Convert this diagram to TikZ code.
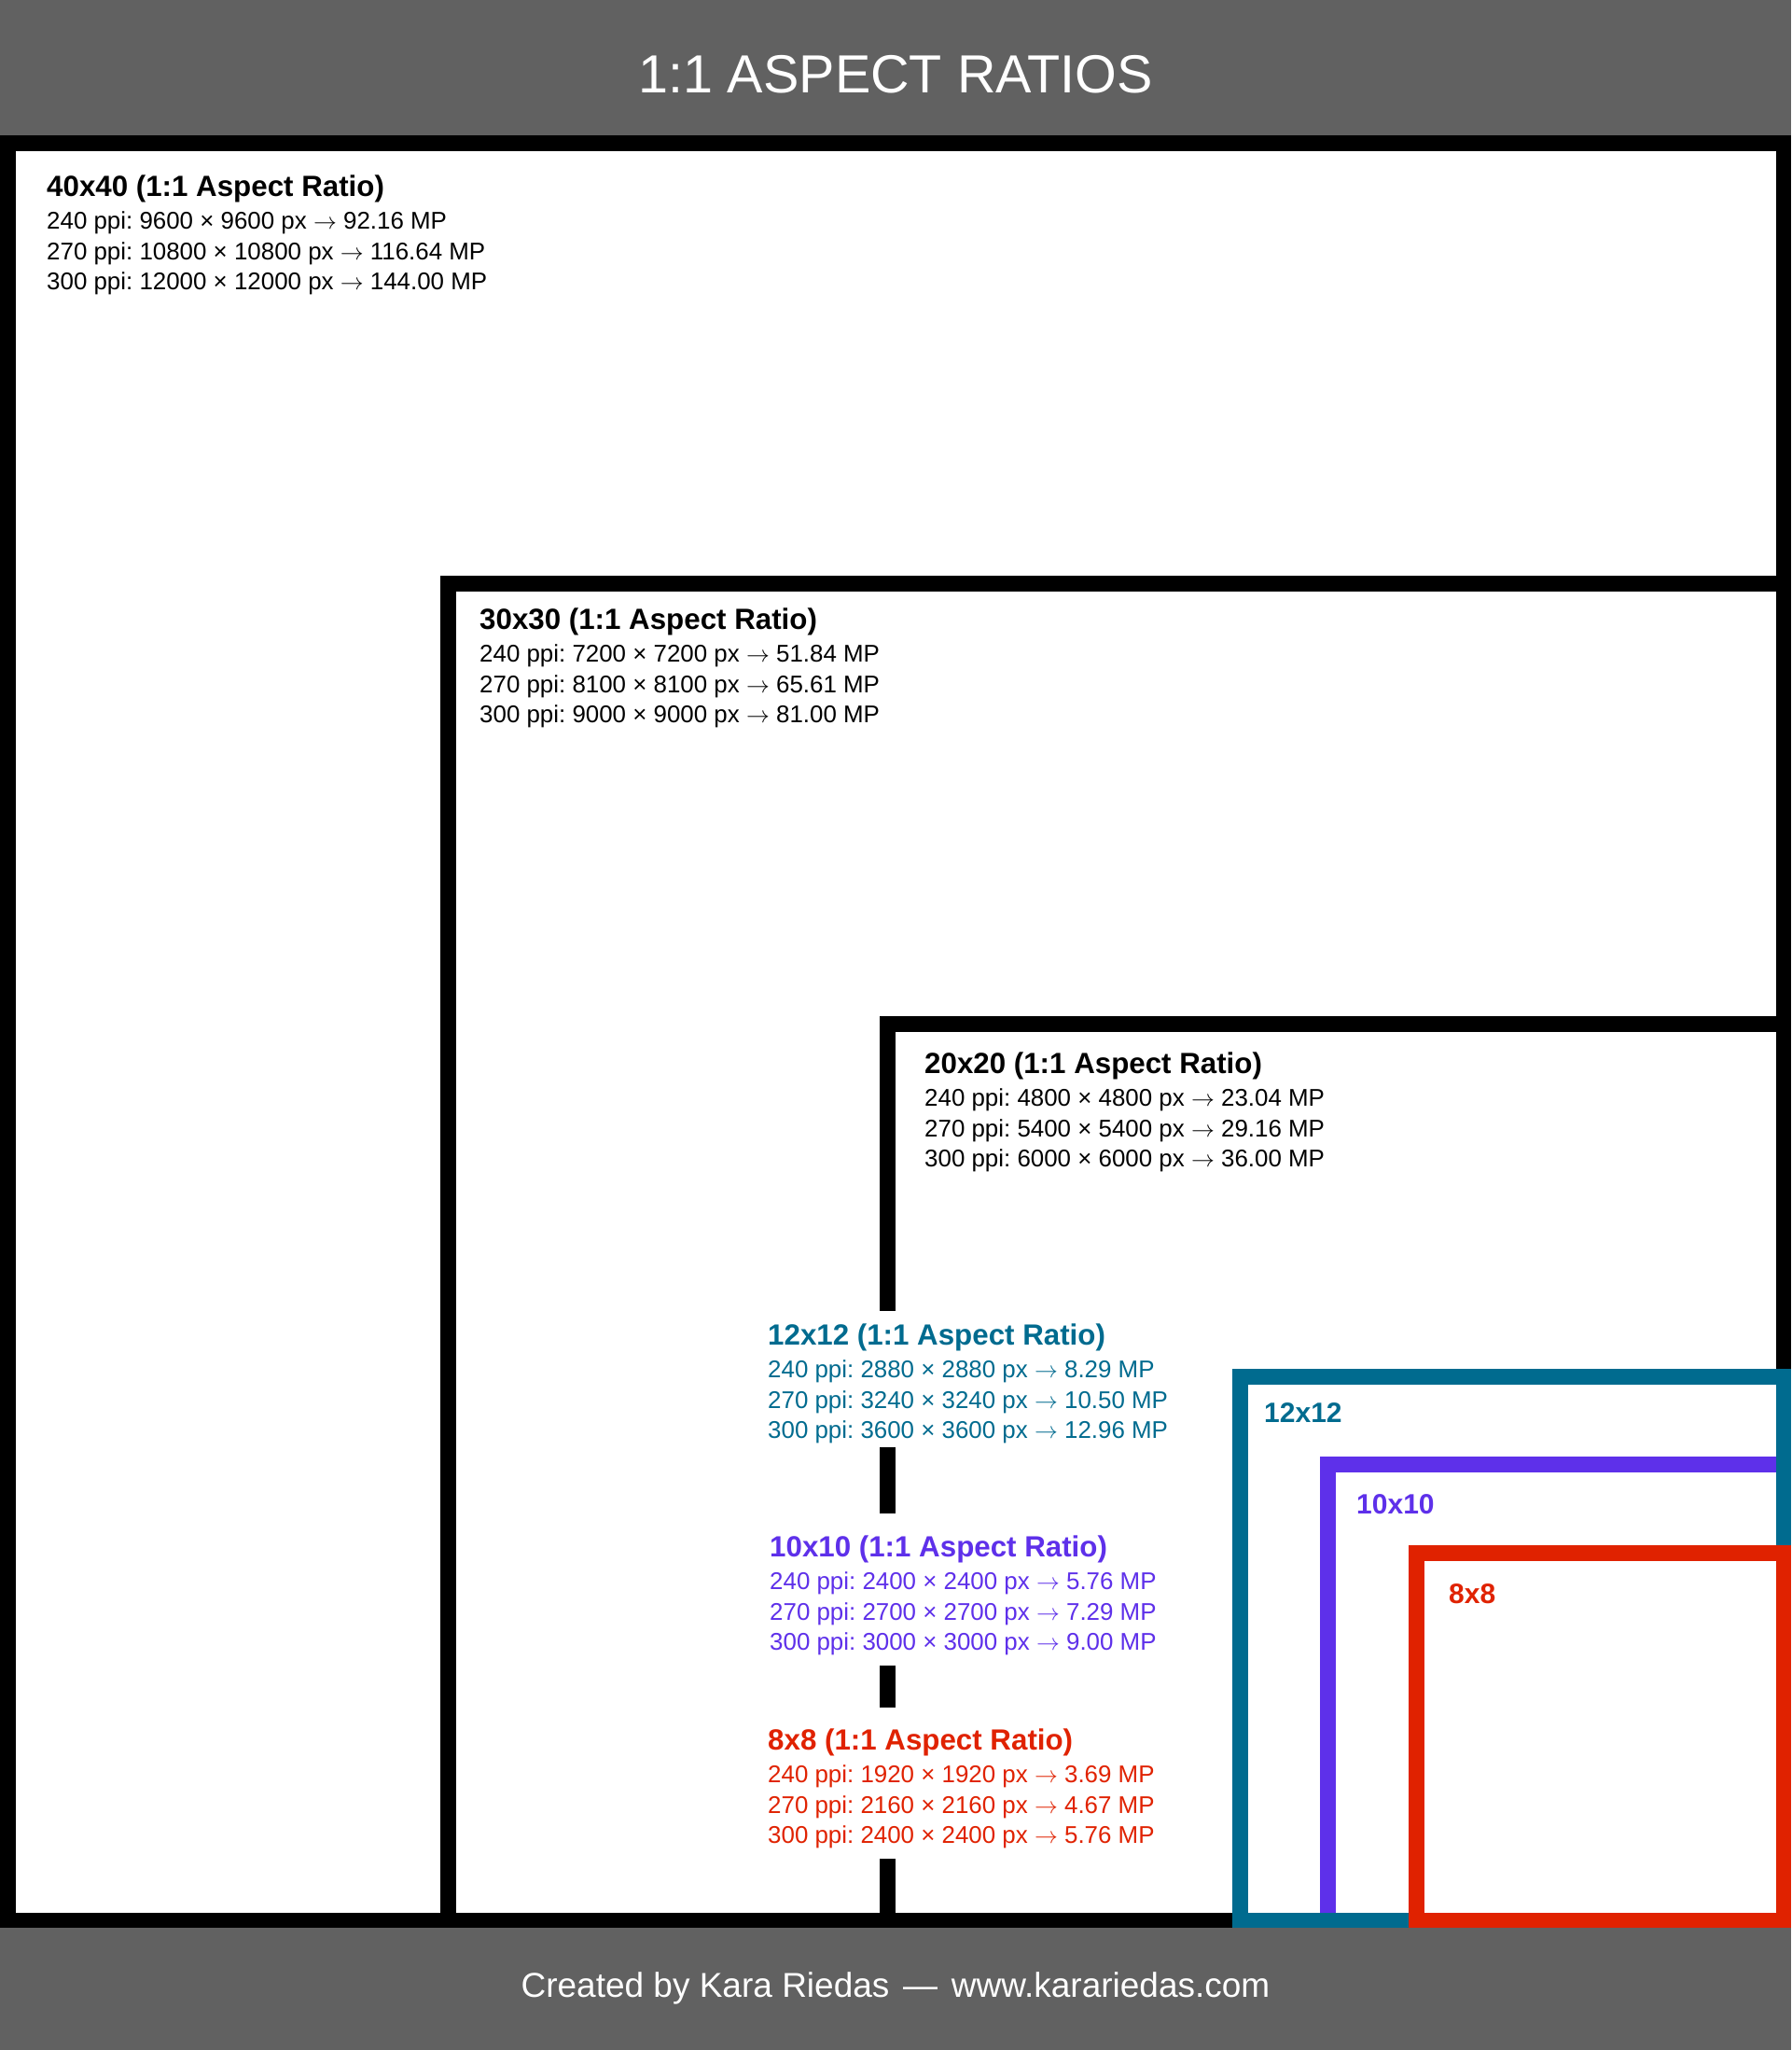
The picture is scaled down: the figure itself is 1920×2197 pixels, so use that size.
\documentclass[tikz,border=0pt]{standalone}
\usepackage{fontspec}
\setmainfont{Liberation Sans}
\frenchspacing
\definecolor{hdrgray}{RGB}{97,97,97}
\definecolor{tealc}{RGB}{0,107,143}
\definecolor{purplec}{RGB}{94,48,234}
\definecolor{redc}{RGB}{224,34,0}
\newcommand\arr{\ensuremath{\rightarrow}}
\tikzset{
  ttl/.style={anchor=base west, inner sep=0pt, font=\fontsize{31.3}{36}\selectfont\bfseries},
  ln/.style={anchor=base west, inner sep=0pt, font=\fontsize{25.9}{30}\selectfont},
  lbl/.style={anchor=base west, inner sep=0pt, font=\fontsize{30}{36}\selectfont\bfseries},
  frame/.style={line width=16.5pt},
}
% #1 name, #2 x, #3 title baseline, #4 colour, #5 title, #6-#8 lines
\newcommand\ratioblock[8]{%
  \node[ttl, text=#4] (#1t) at (#2,#3) {#5};
  \node[ln, text=#4] (#1a) at (#2,#3+35.5) {#6};
  \node[ln, text=#4] (#1b) at (#2,#3+68) {#7};
  \node[ln, text=#4] (#1c) at (#2,#3+100.5) {#8};
}
\begin{document}
\begin{tikzpicture}[x=1pt,y=-1pt]
\useasboundingbox (0,0) rectangle (1920,2197);
\fill[white] (0,0) rectangle (1920,2197);
% header and footer
\fill[hdrgray] (0,0) rectangle (1920,145);
\fill[hdrgray] (0,2066) rectangle (1920,2197);
\node[anchor=base, inner sep=0pt, text=white, font=\fontsize{57.5}{64}\selectfont] (title) at (960,100) {1:1 ASPECT RATIOS};
\node[anchor=base, inner sep=0pt, text=white, font=\fontsize{37}{44}\selectfont] (footer) at (960,2140) {Created by Kara Riedas\hspace{0.4em}—\hspace{0.4em}www.karariedas.com};
% black frames
\draw[frame, black] (8.25,153.25) rectangle (1911.75,2057.75);
\draw[frame, black] (480.25,625.25) rectangle (1911.75,2057.75);
\draw[frame, black] (951.25,1097.25) rectangle (1911.75,2057.75);
% text blocks of the large sizes
\ratioblock{b40}{50}{210}{black}{40x40 (1:1 Aspect Ratio)}{240 ppi: 9600 × 9600 px \arr{} 92.16 MP}{270 ppi: 10800 × 10800 px \arr{} 116.64 MP}{300 ppi: 12000 × 12000 px \arr{} 144.00 MP}
\ratioblock{b30}{514}{674}{black}{30x30 (1:1 Aspect Ratio)}{240 ppi: 7200 × 7200 px \arr{} 51.84 MP}{270 ppi: 8100 × 8100 px \arr{} 65.61 MP}{300 ppi: 9000 × 9000 px \arr{} 81.00 MP}
\ratioblock{b20}{991}{1150}{black}{20x20 (1:1 Aspect Ratio)}{240 ppi: 4800 × 4800 px \arr{} 23.04 MP}{270 ppi: 5400 × 5400 px \arr{} 29.16 MP}{300 ppi: 6000 × 6000 px \arr{} 36.00 MP}
% white backings of the small-size texts
\fill[white] (815,1405) rectangle (1265,1551);
\fill[white] (815,1622) rectangle (1265,1785);
\fill[white] (815,1830) rectangle (1265,1992);
\ratioblock{b12}{823}{1441}{tealc}{12x12 (1:1 Aspect Ratio)}{240 ppi: 2880 × 2880 px \arr{} 8.29 MP}{270 ppi: 3240 × 3240 px \arr{} 10.50 MP}{300 ppi: 3600 × 3600 px \arr{} 12.96 MP}
\ratioblock{b10}{825}{1668}{purplec}{10x10 (1:1 Aspect Ratio)}{240 ppi: 2400 × 2400 px \arr{} 5.76 MP}{270 ppi: 2700 × 2700 px \arr{} 7.29 MP}{300 ppi: 3000 × 3000 px \arr{} 9.00 MP}
\ratioblock{b8}{823}{1875}{redc}{8x8 (1:1 Aspect Ratio)}{240 ppi: 1920 × 1920 px \arr{} 3.69 MP}{270 ppi: 2160 × 2160 px \arr{} 4.67 MP}{300 ppi: 2400 × 2400 px \arr{} 5.76 MP}
% coloured frames
\draw[frame, purplec] (1423.25,1569.25) rectangle (1911.75,2057.75);
\draw[frame, tealc] (1329.25,1475.25) rectangle (1911.75,2057.75);
\draw[frame, redc] (1518.25,1664.25) rectangle (1911.75,2057.75);
\node[lbl, text=tealc] (l12) at (1355,1524) {12x12};
\node[lbl, text=purplec] (l10) at (1454,1622) {10x10};
\node[lbl, text=redc] (l8) at (1553,1718) {8x8};
\end{tikzpicture}
\end{document}
